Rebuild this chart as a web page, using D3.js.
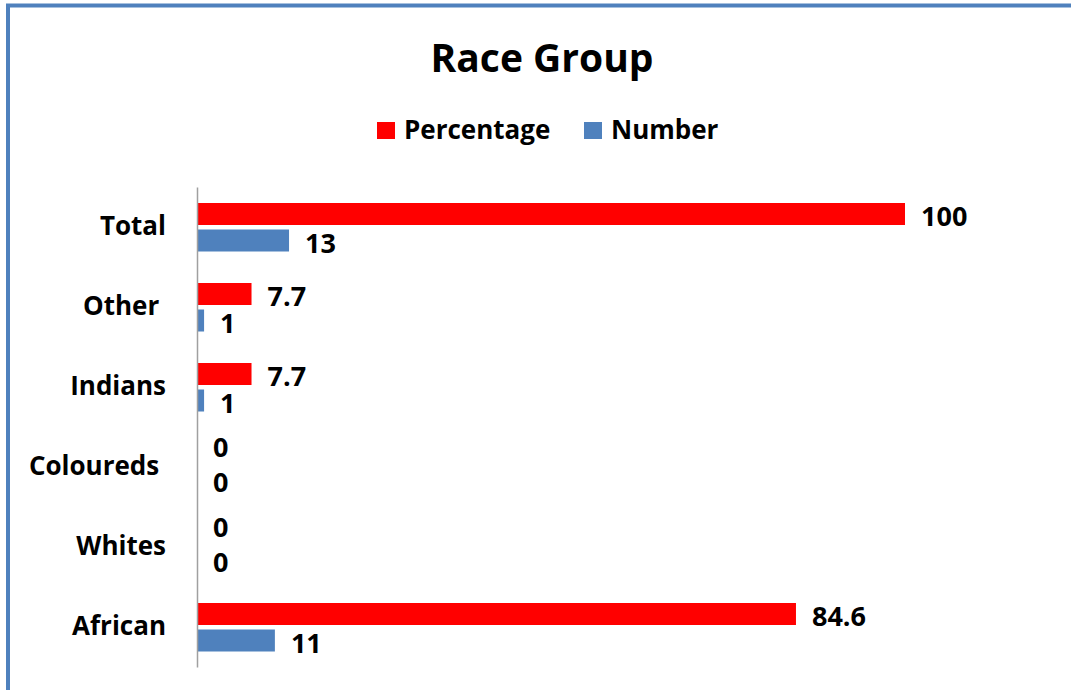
<!DOCTYPE html>
<html>
<head>
<meta charset="utf-8">
<script src="https://cdn.jsdelivr.net/npm/d3@7"></script>
<style>
  body { margin: 0; background: #fff; }
  text { font-family: "Open Sans", sans-serif; font-weight: bold; fill: #000; white-space: pre; }
</style>
</head>
<body>
<div id="chart"></div>
<script>
var categories = ['Total', 'Other ', 'Indians', 'Coloureds ', 'Whites', 'African'];
var percentage = [100, 7.7, 7.7, 0, 0, 84.6];
var number = [13, 1, 1, 0, 0, 11];
var seriesNames = ['Percentage', 'Number'];
var seriesColors = ['#ff0000', '#4f81bd'];

var width = 1071;
var height = 690;

var svg = d3.select('#chart')
  .append('svg')
  .attr('width', width)
  .attr('height', height);

// frame (only top and left edges visible)
svg.append('rect')
  .attr('x', 8)
  .attr('y', 5.5)
  .attr('width', width + 20)
  .attr('height', height + 20)
  .attr('fill', 'none')
  .attr('stroke', '#4f81bd')
  .attr('stroke-width', 4);

// title
svg.append('text')
  .attr('x', 542)
  .attr('y', 72)
  .attr('text-anchor', 'middle')
  .style('font-size', '39px')
  .text('Race Group');

// legend
var legendX = [377, 584];
var legend = svg.selectAll('.legend')
  .data(seriesNames)
  .enter()
  .append('g')
  .attr('class', 'legend')
  .attr('transform', (d, i) => 'translate(' + legendX[i] + ',122)');
legend.append('rect')
  .attr('width', 18)
  .attr('height', 17)
  .attr('fill', (d, i) => seriesColors[i]);
legend.append('text')
  .attr('x', 27)
  .attr('y', 17)
  .style('font-size', '26px')
  .text(d => d);

// scales
var x = d3.scaleLinear().domain([0, 100]).range([197, 905]);
var y = d3.scaleBand().domain(categories).range([187, 667]);

var rows = categories.map((c, i) => ({ cat: c, values: [percentage[i], number[i]] }));

var bars = [];
rows.forEach(r => {
  r.values.forEach((v, j) => bars.push({ cat: r.cat, value: v, s: j }));
});

var barH = 22;
var offsets = [-24, 2.5];

svg.selectAll('.bar')
  .data(bars)
  .enter()
  .append('rect')
  .attr('class', 'bar')
  .attr('x', x(0))
  .attr('y', d => y(d.cat) + y.bandwidth() / 2 + offsets[d.s])
  .attr('width', d => x(d.value) - x(0))
  .attr('height', barH)
  .attr('fill', d => seriesColors[d.s]);

// value labels (zero labels pushed apart so they don't collide)
function labelY(d) {
  var base = y(d.cat) + y.bandwidth() / 2 + offsets[d.s] + barH / 2;
  if (d.value === 0) base += d.s === 0 ? -8 : 1;
  else base += d.s === 0 ? 1 : 2;
  return base;
}

svg.selectAll('.val')
  .data(bars)
  .enter()
  .append('text')
  .attr('class', 'val')
  .attr('x', d => x(d.value) + 16)
  .attr('y', labelY)
  .attr('dominant-baseline', 'central')
  .style('font-size', '27px')
  .text(d => d.value);

// y axis
var yAxis = d3.axisLeft(y).tickSize(0).tickPadding(31);
var yAxisGroup = svg.append('g')
  .attr('class', 'y-axis')
  .attr('transform', 'translate(' + x(0) + ',0)')
  .call(yAxis);
yAxisGroup.select('.domain')
  .attr('stroke', '#a0a0a0')
  .attr('stroke-width', 1.5);
yAxisGroup.selectAll('text')
  .style('font-size', '26px')
  .style('font-family', '"Open Sans", sans-serif')
  .attr('fill', '#000');
</script>
</body>
</html>
